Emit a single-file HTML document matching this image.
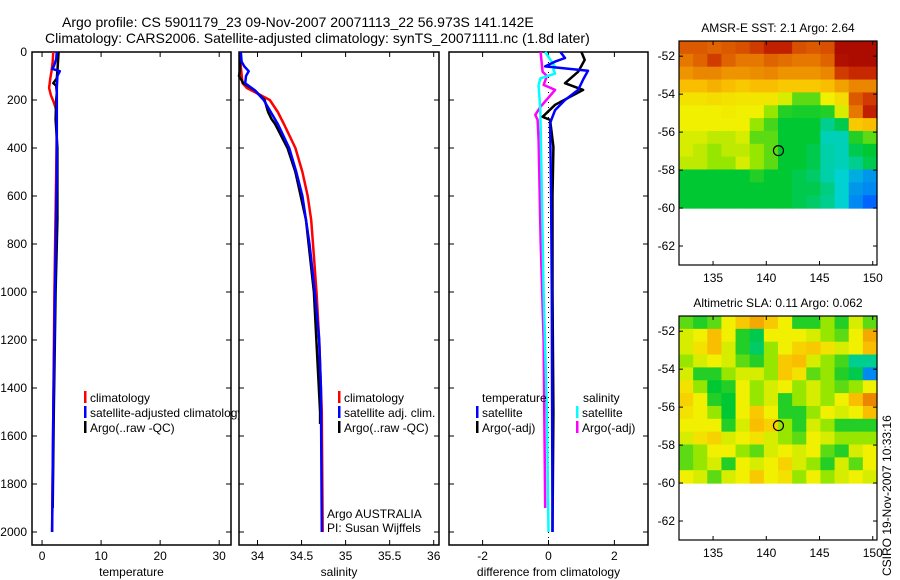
<!DOCTYPE html>
<html><head><meta charset="utf-8"><style>
html,body{margin:0;padding:0;background:#fff;width:900px;height:580px;overflow:hidden}
svg{display:block;font-family:"Liberation Sans",sans-serif}
</style></head><body>
<svg id="fig" width="900" height="580" viewBox="0 0 900 580" xmlns="http://www.w3.org/2000/svg">
<text x="62" y="27" font-size="14">Argo profile: CS 5901179_23 09-Nov-2007 20071113_22 56.973S 141.142E</text>
<text x="45" y="43" font-size="14">Climatology: CARS2006. Satellite-adjusted climatology: synTS_20071111.nc (1.8d later)</text>
<g id="maps"></g>
<g id="panels"></g>
<text transform="translate(891,576) rotate(-90)" font-size="12">CSIRO 19-Nov-2007 10:33:16</text>
</svg>
<script>
// ---------- profile data ----------
const tempClimDepth=[0,40,80,110,150,180,210,240,300,500,1000,1500,2000];
const tempClimVal=[1.9,1.8,1.6,1.4,1.2,1.5,2.0,2.4,2.5,2.4,2.1,1.9,1.7];
const tempSatDepth=[0,30,60,70,80,100,150,200,300,500,1000,1500,2000];
const tempSatVal=[2.5,2.4,2.0,1.7,3.0,2.6,2.5,2.5,2.5,2.5,2.2,1.9,1.7];
const tempArgoDepth=[0,40,80,110,130,140,170,200,280,400,700,1000,1500,1900];
const tempArgoVal=[2.8,2.7,2.6,2.5,1.9,2.4,2.5,2.4,2.3,2.6,2.6,2.3,2.0,1.8];

const salClimDepth=[0,60,130,150,200,250,300,400,500,600,700,800,1000,1200,1500,2000];
const salClimVal=[33.81,33.81,33.83,33.88,34.14,34.23,34.30,34.43,34.51,34.57,34.61,34.63,34.67,34.70,34.73,34.74];
const salSatDepth=[0,40,60,80,100,130,160,200,300,400,500,600,700,800,1000,1200,1400,2000];
const salSatVal=[33.81,33.82,33.85,33.90,33.87,33.86,33.97,34.07,34.23,34.36,34.44,34.51,34.55,34.59,34.65,34.70,34.72,34.73];
const salArgoDepth=[0,80,100,130,160,200,250,280,300,400,500,700,1000,1500,1550];
const salArgoVal=[33.80,33.80,33.79,33.84,33.97,34.08,34.12,34.16,34.20,34.34,34.43,34.55,34.64,34.71,34.71];

const diffTSatDepth=[0,25,40,60,78,115,158,200,242,296,600,1000,2000];
const diffTSatVal=[0.36,0.5,0.2,-0.1,1.2,1.05,0.9,0.5,0.2,0.05,0.08,0.1,0.12];
const diffTArgoDepth=[0,33,82,130,158,220,270,283,395,600,1000,1500,2000];
const diffTArgoVal=[1.0,1.1,0.9,0.5,1.05,0.2,-0.18,0.05,0.15,0.12,0.12,0.15,0.12];
const diffSSatDepth=[0,62,73,90,110,140,240,600,1000,1500,2000];
const diffSSatVal=[-0.1,0.2,0.15,0.2,-0.25,-0.3,-0.25,-0.2,-0.15,-0.05,0.0];
const diffSArgoDepth=[0,82,100,137,158,229,262,283,367,783,1200,1900];
const diffSArgoVal=[-0.24,-0.18,-0.05,-0.15,0.2,-0.25,-0.4,-0.33,-0.3,-0.24,-0.15,-0.1];

const depthTicks=[0,200,400,600,800,1000,1200,1400,1600,1800,2000];
const tempTicks=[0,10,20,30];
const salTicks=[34,34.5,35,35.5,36];
const diffTicks=[-2,0,2];

// ---------- map data ----------
const sstGrid=[
[0.85,0.85,0.84,0.85,0.86,0.88,0.92,0.92,0.86,0.85,0.86,0.97,0.97,0.97],
[0.82,0.84,0.88,0.84,0.82,0.82,0.84,0.83,0.82,0.82,0.84,0.96,0.97,0.97],
[0.78,0.80,0.80,0.78,0.78,0.79,0.80,0.78,0.78,0.78,0.80,0.88,0.9,0.9],
[0.72,0.72,0.74,0.72,0.70,0.72,0.72,0.70,0.70,0.70,0.72,0.76,0.8,0.8],
[0.65,0.65,0.66,0.65,0.64,0.64,0.64,0.60,0.50,0.50,0.62,0.66,0.85,0.88],
[0.62,0.62,0.62,0.63,0.62,0.62,0.55,0.45,0.44,0.44,0.45,0.60,0.82,0.92],
[0.62,0.62,0.62,0.62,0.62,0.55,0.48,0.42,0.42,0.42,0.35,0.40,0.70,0.72],
[0.60,0.60,0.58,0.58,0.60,0.50,0.50,0.42,0.42,0.42,0.32,0.32,0.45,0.50],
[0.60,0.58,0.55,0.58,0.58,0.55,0.50,0.42,0.42,0.40,0.33,0.32,0.40,0.42],
[0.58,0.58,0.55,0.55,0.60,0.55,0.50,0.42,0.42,0.40,0.33,0.32,0.35,0.40],
[0.42,0.42,0.42,0.42,0.42,0.45,0.42,0.42,0.40,0.38,0.33,0.30,0.25,0.22],
[0.42,0.42,0.42,0.42,0.42,0.42,0.42,0.42,0.40,0.40,0.36,0.30,0.22,0.20],
[0.42,0.42,0.42,0.42,0.42,0.42,0.42,0.42,0.40,0.38,0.35,0.30,0.20,0.15]];
const slaGrid=[
[0.50,0.45,0.50,0.62,0.70,0.75,0.70,0.62,0.45,0.45,0.55,0.45,0.60,0.50],
[0.60,0.62,0.72,0.62,0.45,0.40,0.62,0.62,0.62,0.60,0.55,0.50,0.62,0.75],
[0.60,0.65,0.72,0.60,0.45,0.38,0.55,0.62,0.68,0.70,0.65,0.60,0.62,0.72],
[0.55,0.60,0.62,0.60,0.50,0.45,0.55,0.70,0.72,0.60,0.55,0.48,0.35,0.35],
[0.60,0.45,0.45,0.55,0.60,0.60,0.55,0.70,0.65,0.50,0.55,0.45,0.40,0.20],
[0.65,0.55,0.42,0.45,0.62,0.55,0.60,0.62,0.55,0.60,0.55,0.50,0.55,0.62],
[0.68,0.62,0.45,0.42,0.62,0.55,0.60,0.45,0.55,0.60,0.55,0.62,0.72,0.80],
[0.65,0.62,0.55,0.42,0.62,0.70,0.62,0.45,0.45,0.55,0.62,0.60,0.62,0.72],
[0.62,0.62,0.62,0.45,0.60,0.72,0.68,0.55,0.45,0.60,0.55,0.45,0.45,0.45],
[0.60,0.65,0.68,0.60,0.62,0.65,0.60,0.55,0.50,0.62,0.60,0.55,0.55,0.55],
[0.50,0.55,0.62,0.62,0.55,0.50,0.60,0.62,0.60,0.62,0.50,0.45,0.60,0.62],
[0.50,0.55,0.60,0.45,0.62,0.60,0.62,0.68,0.60,0.55,0.45,0.60,0.50,0.62],
[0.62,0.60,0.50,0.60,0.62,0.70,0.62,0.65,0.55,0.62,0.55,0.60,0.62,0.60]];
const lonTicks=[135,140,145,150];
const latTicks=[-52,-54,-56,-58,-60,-62];
const argoLon=141.142, argoLat=-56.973;

const NS="http://www.w3.org/2000/svg";
function mk(tag,attrs,parent){const e=document.createElementNS(NS,tag);for(const k in attrs)e.setAttribute(k,attrs[k]);parent.appendChild(e);return e;}

// ---------- panels ----------
const PT=52,PB=545;
const yD=d=>PT+d*0.24;
const panels=document.getElementById('panels');
function panel(name,x0,x1,v0,v1,ticks,fmt,title){
  const g=mk('g',{},panels);
  
  
  const xs=v=>x0+(v-v0)/(v1-v0)*(x1-x0);
  mk('rect',{x:x0,y:PT,width:x1-x0,height:PB-PT,fill:'#fff',stroke:'#000','stroke-width':1.5},g);
  ticks.forEach(t=>{const x=xs(t);
    mk('line',{x1:x,x2:x,y1:PB,y2:PB-5,stroke:'#000'},g);
    mk('line',{x1:x,x2:x,y1:PT,y2:PT+5,stroke:'#000'},g);
    const tl=mk('text',{x:x,y:560,'font-size':12,'text-anchor':'middle'},g);tl.textContent=fmt(t);
    
    
  });
  depthTicks.forEach(d=>{const y=yD(d);
    mk('line',{x1:x0,x2:x0+5,y1:y,y2:y,stroke:'#000'},g);
    mk('line',{x1:x1,x2:x1-5,y1:y,y2:y,stroke:'#000'},g);
  });
  const at=mk('text',{x:(x0+x1)/2,y:576,'font-size':12,'text-anchor':'middle'},g);at.textContent=title;
  
  
  return {g,xs};
}
function line(p,ds,vs,color,name,w){
  const pts=ds.map((d,i)=>p.xs(vs[i]).toFixed(1)+','+yD(d).toFixed(1)).join(' ');
  const l=mk('polyline',{points:pts,fill:'none',stroke:color,'stroke-width':w||2.5,'stroke-linejoin':'round'},p.g);
  
  
}
function legend(g,x,y,color,label){
  if(color)mk('rect',{x:x-6,y:y-11,width:2.5,height:12,fill:color},g);
  const t=mk('text',{x:x,y:y,'font-size':12},g);t.textContent=label;
  
  
}

const p1=panel('temperature-panel',32,231,-1.7,32,tempTicks,String,'temperature');
depthTicks.forEach(d=>{const t=mk('text',{x:27,y:yD(d)+4,'font-size':12,'text-anchor':'end'},p1.g);t.textContent=d;
  
  });
line(p1,tempClimDepth,tempClimVal,'#f00','temp-climatology-line');
line(p1,tempArgoDepth,tempArgoVal,'#000','temp-argo-line');
line(p1,tempSatDepth,tempSatVal,'#00f','temp-satellite-line');
legend(p1.g,90,402,'#f00','climatology');
legend(p1.g,90,417,'#00f','satellite-adjusted climatology');
legend(p1.g,90,432,'#000','Argo(..raw -QC)');

const p2=panel('salinity-panel',239,439,33.79,36.06,salTicks,String,'salinity');
line(p2,salClimDepth,salClimVal,'#f00','sal-climatology-line');
line(p2,salArgoDepth,salArgoVal,'#000','sal-argo-line');
line(p2,salSatDepth,salSatVal,'#00f','sal-satellite-line');
legend(p2.g,344,402,'#f00','climatology');
legend(p2.g,344,417,'#00f','satellite adj. clim.');
legend(p2.g,344,432,'#000','Argo(..raw -QC)');
legend(p2.g,327,518,null,'Argo AUSTRALIA');
legend(p2.g,327,532,null,'PI: Susan Wijffels');

const p3=panel('difference-panel',449,648,-3.02,3.02,diffTicks,String,'difference from climatology');
mk('line',{x1:p3.xs(0),x2:p3.xs(0),y1:PT,y2:PB,stroke:'#000','stroke-dasharray':'1,4'},p3.g);
line(p3,diffSArgoDepth,diffSArgoVal,'#f0f','diff-sal-argo-line');
line(p3,diffSSatDepth,diffSSatVal,'#0ff','diff-sal-satellite-line');
line(p3,diffTArgoDepth,diffTArgoVal,'#000','diff-temp-argo-line');
line(p3,diffTSatDepth,diffTSatVal,'#00f','diff-temp-satellite-line');
legend(p3.g,482,402,null,'temperature');
legend(p3.g,583,402,null,'salinity');
legend(p3.g,482,417,'#00f','satellite');
legend(p3.g,482,432,'#000','Argo(-adj)');
legend(p3.g,582,417,'#0ff','satellite');
legend(p3.g,582,432,'#f0f','Argo(-adj)');

// ---------- maps ----------
const cstops=[[0,[0,0,200]],[0.15,[0,100,255]],[0.3,[0,210,210]],[0.42,[0,200,50]],[0.55,[150,230,0]],[0.62,[240,240,0]],[0.72,[250,190,0]],[0.82,[230,120,0]],[0.9,[200,40,0]],[1,[160,0,0]]];
function cmap(v){for(let i=1;i<cstops.length;i++){if(v<=cstops[i][0]){const [a,ca]=cstops[i-1],[b,cb]=cstops[i];const t=(v-a)/(b-a);return 'rgb('+ca.map((c,j)=>Math.round(c+(cb[j]-c)*t)).join(',')+')';}}return 'rgb(160,0,0)';}
const maps=document.getElementById('maps');
function map(name,top,bottom,grid,title){
  const g=mk('g',{},maps);
  
  
  const L=679,R=877,lon0=131.8,lon1=150.4,latT=-51.2,latB=-63;
  const xs=lo=>L+(lo-lon0)/(lon1-lon0)*(R-L);
  const ys=la=>top+(latT-la)/(latT-latB)*(bottom-top);
  const rows=grid.length,cols=grid[0].length,dlon=(lon1-lon0)/cols,dlat=(-60-latT)/rows;
  grid.forEach((row,r)=>row.forEach((v,c)=>{
    const x=xs(lon0+c*dlon),y=ys(latT+r*dlat);
    const cell=mk('rect',{x:x,y:y,width:xs(lon0+(c+1)*dlon)-x+0.6,height:ys(latT+(r+1)*dlat)-y+0.6,fill:cmap(v)},g);
    
    
  }));
  mk('rect',{x:L,y:top,width:R-L,height:bottom-top,fill:'none',stroke:'#000','stroke-width':1.2},g);
  lonTicks.forEach(lo=>{const x=xs(lo);
    mk('line',{x1:x,x2:x,y1:bottom,y2:bottom-4,stroke:'#000'},g);
    mk('line',{x1:x,x2:x,y1:top,y2:top+4,stroke:'#000'},g);
    const t=mk('text',{x:x,y:bottom+17,'font-size':12,'text-anchor':'middle'},g);t.textContent=lo;
    
    });
  latTicks.forEach(la=>{const y=ys(la);
    mk('line',{x1:L,x2:L+4,y1:y,y2:y,stroke:'#000'},g);
    mk('line',{x1:R,x2:R-4,y1:y,y2:y,stroke:'#000'},g);
    const t=mk('text',{x:L-4,y:y+4,'font-size':12,'text-anchor':'end'},g);t.textContent=la;
    
    });
  const c=mk('circle',{cx:xs(argoLon),cy:ys(argoLat),r:5,fill:'none',stroke:'#000','stroke-width':1.2},g);
  
  
  const tt=mk('text',{x:(L+R)/2,y:top-9,'font-size':12,'text-anchor':'middle'},g);tt.textContent=title;
  
  
}
map('sst-map',41,265,sstGrid,'AMSR-E SST: 2.1 Argo: 2.64');
map('sla-map',316,540,slaGrid,'Altimetric SLA: 0.11 Argo: 0.062');
</script>
</body></html>
